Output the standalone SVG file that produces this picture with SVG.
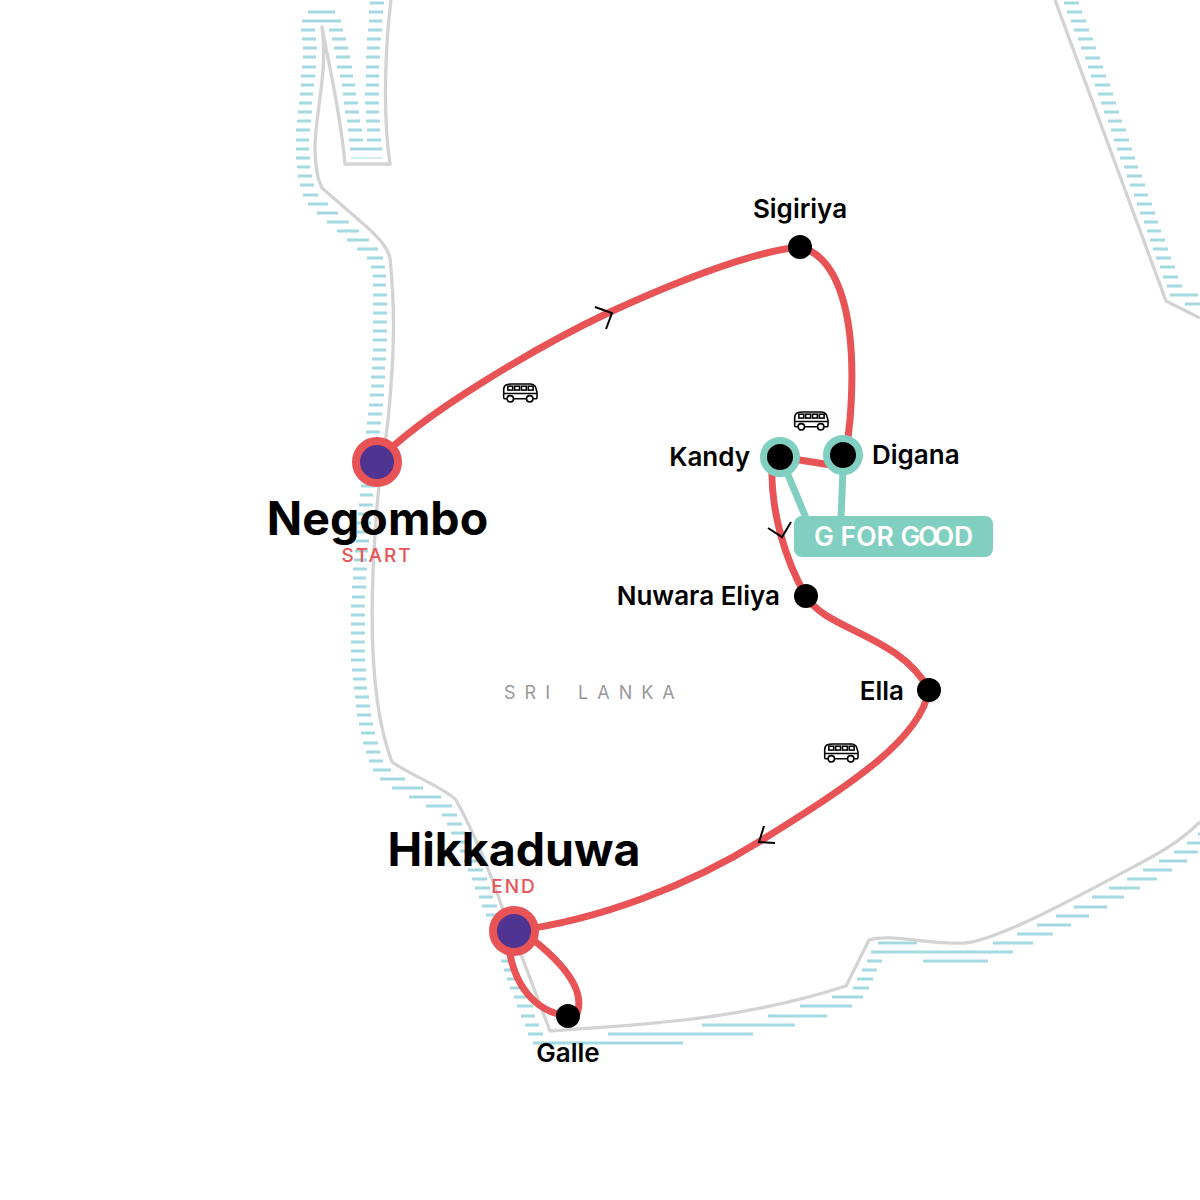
<svg xmlns="http://www.w3.org/2000/svg" width="1200" height="1200" viewBox="0 0 1200 1200">
<style>
.water{fill:none;stroke:#a3dae2;stroke-width:3}
.coast{fill:none;stroke:#d3d3d3;stroke-width:3.300;stroke-linejoin:round}
.route{fill:none;stroke:#e85356;stroke-width:7}
.chev{fill:none;stroke:#000;stroke-width:2}
.teal{fill:none;stroke:#80cfc0;stroke-width:7}
.lab{font-family:"Inter","Liberation Sans",sans-serif;font-weight:600;font-size:26px;fill:#000}
.big{font-family:"Inter","Liberation Sans",sans-serif;font-weight:700;font-size:46.500px;fill:#000;text-anchor:middle}
.tag{font-family:"Inter","Liberation Sans",sans-serif;font-weight:500;font-size:19px;fill:#e85356;text-anchor:middle;letter-spacing:2px}
.bus path,.bus rect{fill:none;stroke:#000;stroke-width:1.600}
.bus circle{fill:#fff;stroke:#000;stroke-width:1.600}
</style>
<defs>
<symbol id="busIcon" viewBox="0 0 36 20" class="bus" overflow="visible">
<path d="M4,16H1.5Q.7,16 .7,14V7Q.7,3 3,1.8Q5,.7 9,.7H28Q32,.7 33.5,4L35,9V14Q35,16 33.5,16H31M24,16H11M.8,10.500H35"/>
<rect x="5" y="3" width="5" height="4"/><rect x="12" y="3" width="5" height="4"/><rect x="19" y="3" width="5" height="4"/><rect x="26" y="3" width="5" height="4"/>
<circle cx="7.500" cy="16" r="3.300"/><circle cx="27.500" cy="16" r="3.300"/>
</symbol>
</defs>
<g id="water">
<path class="water" d="M308,12H335M302,21H341M301,30H315M329,30H343M302,39H316M332,39H346M303,48H317M334,48H348M303,57H316M336,57H350M302,67H316M337,67H352M301,76H315M340,76H353M301,85H314M342,85H355M300,94H313M343,94H356M299,103H312M344,103H358M298,112H312M345,112H359M297,121H311M347,121H360M296,130H310M348,130H362M296,140H309M349,140H363M296,149H309M350,149H382M296,158H310M297,167H310M298,176H312M300,185H314M303,195H318M308,204H328M317,213H338M327,222H349M337,231H359M347,240H369M357,249H378"/>
<path class="water" style="stroke-width:1" d="M351,158H382"/>
<path class="water" d="M370,3H384M369,12H383M369,21H382M368,30H382M367,39H381M367,48H380M366,57H380M366,67H379M366,76H379M366,85H379M365,94H379M365,103H379M366,112H379M366,121H380M367,130H380M367,140H381"/>
<path class="water" d="M367,258H383M371,267H385M373,276H386M373,285H386M373,295H387M373,304H387M373,313H387M373,322H387M373,331H387M373,340H387M373,350H386M372,359H386M372,368H385M371,377H385M371,386H384M370,395H384M369,405H383M368,414H382M367,423H381M366,432H380M365,441H379M361,486H375M360,495H373M359,505H373M358,514H372M357,523H371M357,532H370M356,541H369M355,551H368M354,560H367M353,569H367M353,578H366M352,587H366M352,597H365M351,606H365M351,615H365M351,624H365M351,633H365M351,642H365M351,651H365M351,660H365M352,670H366M353,679H366M354,688H367M355,697H369M356,706H370M357,715H371M359,724H373M361,733H375M363,743H378M366,752H380M369,761H383M373,770H391M380,779H405M392,788H423M409,797H441M426,806H452M442,815H457M447,824H462M451,833H466M455,842H470M460,851H474M464,861H478M468,870H483M472,879H487M475,888H490M479,897H493M482,906H497M486,915H500M501,961H515M504,970H518M507,979H521M510,988H524M514,997H528M517,1006H533M521,1016H535M525,1025H539M528,1034H543M533,1043H683"/>
<path class="water" d="M608,1034H753M702,1025H795M768,1016H827M800,1006H852M832,997H863M853,988H869M857,979H873M862,970H877M867,961H882M871,952H1013M878,943H917M923,961H988M993,943H1033M1017,934H1053M1037,925H1071M1056,916H1089M1074,907H1107M1092,897H1124M1109,888H1140M1127,879H1157M1143,870H1172M1159,861H1187M1174,852H1198M1187,843H1200M1198,834H1200"/>
<path class="water" d="M1064,3H1079M1067,12H1082M1071,21H1086M1074,30H1089M1078,39H1093M1081,48H1096M1085,58H1100M1088,67H1103M1091,76H1106M1095,85H1110M1098,94H1113M1101,103H1116M1104,112H1119M1108,121H1122M1111,130H1126M1114,140H1129M1117,149H1132M1120,158H1135M1124,167H1138M1127,176H1142M1130,185H1145M1134,195H1148M1137,204H1152M1140,213H1155M1144,222H1158M1147,231H1161M1150,240H1165M1153,249H1168M1156,258H1171M1160,267H1175M1163,277H1178M1167,286H1182M1170,295H1198M1185,304H1200"/>
</g>
<g id="coast">
<path class="coast" d="M391,0C386,40 382,110 390,164H345C340,110 330,70 322,27C328,70 316,110 315,145C315,165 318,180 322,188L368,228Q387,245 390,258C394,300 396,340 388,420C385,450 378,480 376,520C370,600 368,700 392,762C410,775 445,788 456,800C470,825 490,870 503,910L522,957L550,1031C650,1024 740,1020 846,986L869,940C890,933 930,945 965,943C1000,940 1090,890 1150,858Q1180,842 1200,822"/>
<path class="coast" d="M1055,0L1166,301L1200,318"/>
</g>
<g id="connectors">
<path class="route" d="M377,462C420,415 540,345 610,312C680,280 750,252 800,247C840,257 858,320 850,420L846,455"/>
<path class="route" d="M780,457L844,467"/>
<path class="route" d="M772,462C770,510 785,560 806,596C825,630 900,635 929,690C920,740 850,785 762,840C690,885 600,920 514,931"/>
<path class="route" d="M508,940C512,985 535,1012 568,1016"/>
<path class="route" d="M527,935C560,960 588,990 576,1016"/>
<path class="teal" d="M786,470L806,518"/>
<path class="teal" d="M843,470L841,518"/>
<path class="chev" d="M595,307L612,313L606,329"/>
<path class="chev" d="M768,528L782,537L791,522"/>
<path class="chev" d="M764,826L759,842L775,843"/>
</g>
<use href="#busIcon" x="503" y="383" width="35" height="20"/>
<use href="#busIcon" x="794" y="411" width="35" height="20"/>
<use href="#busIcon" x="824" y="743" width="35" height="20"/>
<g id="gforgood"><rect x="794" y="516" width="199" height="41" rx="8" fill="#80cfc0"/>
<text x="814" y="545.500" dx="0 0 0 0 0 0 0 -2 -5 0" font-family="Inter,'Liberation Sans',sans-serif" font-weight="600" font-size="26.500" fill="#fff">G FOR GOOD</text></g>
<g id="negombo"><circle cx="377" cy="462" r="21" fill="#4f3491" stroke="#e85356" stroke-width="8"/><text class="big" x="377.500" y="535">Negombo</text><text class="tag" x="377" y="562">START</text></g>
<g id="hikkaduwa"><circle cx="514" cy="931" r="21" fill="#4f3491" stroke="#e85356" stroke-width="8"/><text class="big" x="514" y="866">Hikkaduwa</text><text class="tag" x="514" y="893">END</text></g>
<g id="sigiriya"><circle cx="800" cy="247" r="12"/><text class="lab" x="800" y="218" text-anchor="middle">Sigiriya</text></g>
<g id="kandy"><circle cx="780" cy="457" r="16.500" fill="#000" stroke="#80cfc0" stroke-width="7"/><text class="lab" x="750" y="466" text-anchor="end">Kandy</text></g>
<g id="digana"><circle cx="843" cy="455" r="16.500" fill="#000" stroke="#80cfc0" stroke-width="7"/><text class="lab" x="872" y="464">Digana</text></g>
<g id="nuwara"><circle cx="806" cy="596" r="12"/><text class="lab" x="780" y="605" text-anchor="end">Nuwara Eliya</text></g>
<g id="ella"><circle cx="929" cy="690" r="12"/><text class="lab" x="904" y="700" text-anchor="end">Ella</text></g>
<g id="galle"><circle cx="568" cy="1016" r="12"/><text class="lab" x="568" y="1062" text-anchor="middle">Galle</text></g>
<text x="504" y="699" font-family="Inter,'Liberation Sans',sans-serif" font-size="18" fill="#999" letter-spacing="9" word-spacing="5">SRI LANKA</text>
</svg>
